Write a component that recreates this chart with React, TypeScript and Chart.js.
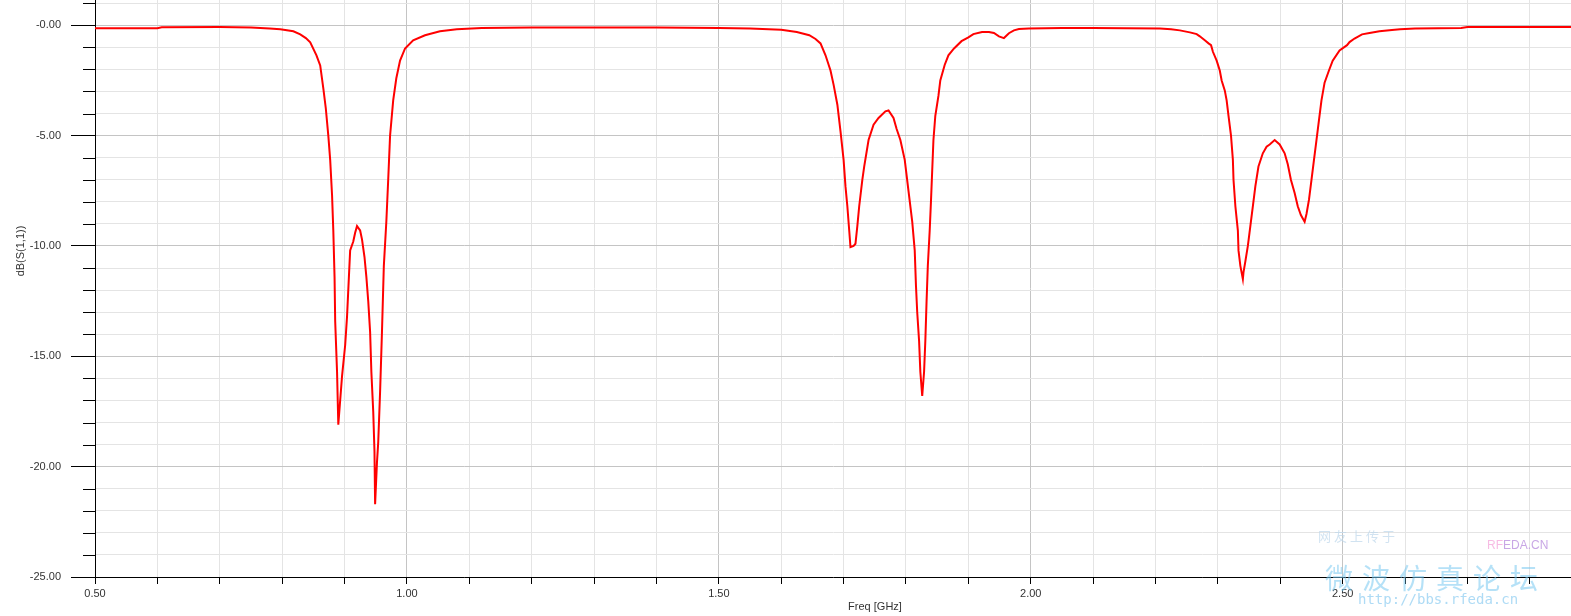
import React, { useEffect, useRef } from "react";
import { Chart, registerables } from "chart.js";

Chart.register(...registerables);

// Frequency samples (GHz)
const freq: number[] = [
  0.5, 0.6, 0.607, 0.7, 0.75, 0.78, 0.797, 0.818, 0.829, 0.838, 0.845, 0.855, 0.861, 0.866, 0.87, 0.874,
  0.877, 0.88, 0.882, 0.884, 0.885, 0.888, 0.89, 0.893, 0.896, 0.901, 0.904, 0.907, 0.909, 0.914, 0.917,
  0.92, 0.925, 0.928, 0.932, 0.935, 0.938, 0.941, 0.943, 0.946, 0.948, 0.949, 0.952, 0.954, 0.957, 0.96,
  0.963, 0.967, 0.97, 0.973, 0.978, 0.983, 0.989, 0.997, 1.01, 1.029, 1.053, 1.08, 1.12, 1.2, 1.4, 1.5,
  1.55, 1.6, 1.625, 1.645, 1.655, 1.663, 1.671, 1.679, 1.684, 1.69, 1.695, 1.7, 1.703, 1.706, 1.709, 1.711,
  1.716, 1.719, 1.722, 1.725, 1.73, 1.733, 1.74, 1.748, 1.756, 1.767, 1.772, 1.78, 1.785, 1.791, 1.798,
  1.804, 1.81, 1.814, 1.816, 1.818, 1.821, 1.823, 1.826, 1.829, 1.831, 1.833, 1.835, 1.838, 1.84, 1.842,
  1.844, 1.847, 1.852, 1.855, 1.862, 1.868, 1.877, 1.889, 1.9, 1.908, 1.922, 1.933, 1.941, 1.949, 1.957,
  1.965, 1.973, 1.981, 1.997, 2.05, 2.1, 2.207, 2.225, 2.239, 2.255, 2.266, 2.271, 2.279, 2.285, 2.289,
  2.292, 2.298, 2.303, 2.306, 2.311, 2.314, 2.317, 2.321, 2.324, 2.325, 2.328, 2.332, 2.333, 2.336, 2.34,
  2.341, 2.344, 2.348, 2.352, 2.356, 2.36, 2.365, 2.372, 2.378, 2.383, 2.391, 2.399, 2.407, 2.412, 2.417,
  2.423, 2.428, 2.433, 2.439, 2.442, 2.446, 2.45, 2.454, 2.458, 2.462, 2.466, 2.471, 2.478, 2.484, 2.495,
  2.507, 2.511, 2.519, 2.531, 2.543, 2.559, 2.579, 2.592, 2.616, 2.69, 2.7, 2.866,
];

// dB(S(1,1)) values
const s11: number[] = [
  -0.13, -0.13, -0.09, -0.08, -0.1, -0.14, -0.18, -0.27, -0.41, -0.58, -0.77, -1.36, -1.82, -2.86, -3.77, -5.0,
  -6.1, -7.7, -9.3, -11.4, -13.4, -15.7, -18.1, -17.0, -15.9, -14.5, -13.2, -11.4, -10.2, -9.8, -9.4,
  -9.1, -9.3, -9.7, -10.5, -11.4, -12.5, -13.9, -15.7, -17.5, -19.3, -21.7, -19.8, -18.9, -16.6, -13.9,
  -10.9, -8.9, -7.0, -5.0, -3.4, -2.4, -1.6, -1.05, -0.68, -0.45, -0.27, -0.18, -0.12, -0.1, -0.1, -0.12,
  -0.15, -0.2, -0.3, -0.45, -0.62, -0.82, -1.36, -2.05, -2.7, -3.6, -4.8, -6.1, -7.3, -8.2, -9.3, -10.05,
  -10.0, -9.9, -9.1, -8.2, -7.0, -6.4, -5.2, -4.5, -4.2, -3.9, -3.86, -4.2, -4.7, -5.2, -6.1,
  -7.5, -8.9, -10.2, -11.8, -13.0, -14.3, -15.7, -16.8, -15.7, -14.3, -12.5, -10.9, -9.3, -8.0, -6.6,
  -5.2, -4.1, -3.2, -2.5, -1.8, -1.36, -1.05, -0.72, -0.55, -0.4, -0.3, -0.3, -0.35, -0.5, -0.58,
  -0.36, -0.23, -0.17, -0.15, -0.12, -0.12, -0.14, -0.18, -0.23, -0.32, -0.4, -0.5, -0.68, -0.82, -0.9,
  -1.2, -1.6, -2.05, -2.5, -2.95, -3.4, -4.1, -5.0, -6.1, -7.0, -8.2, -9.3, -10.2, -10.9, -11.5,
  -11.2, -10.7, -10.0, -9.1, -8.2, -7.3, -6.4, -5.8, -5.5, -5.4, -5.2, -5.4, -5.8, -6.3, -7.0,
  -7.6, -8.2, -8.6, -8.9, -8.55, -7.9, -7.0, -6.1, -5.2, -4.3, -3.4, -2.6, -2.05, -1.6, -1.14,
  -0.9, -0.76, -0.6, -0.41, -0.35, -0.27, -0.21, -0.18, -0.14, -0.12, -0.08, -0.08,
];

const xTicks: number[] = [
  0.5, 0.6, 0.7, 0.8, 0.9, 1.0, 1.1, 1.2, 1.3, 1.4, 1.5, 1.6, 1.7, 1.8, 1.9, 2.0, 2.1, 2.2, 2.3, 2.4, 2.5,
  2.6, 2.7, 2.8,
];
const xMajorLabels: number[] = [0.5, 1.0, 1.5, 2.0, 2.5];
const yTicks: number[] = [
  -25, -24, -23, -22, -21, -20, -19, -18, -17, -16, -15, -14, -13, -12, -11, -10, -9, -8, -7, -6, -5, -4,
  -3, -2, -1, 0, 1,
];
const yMajorLabels: number[] = [-25, -20, -15, -10, -5, 0];

const X_MIN = 0.5;
const X_MAX = 2.866;
const Y_MIN = -25;
const Y_MAX = 1.146;

const xTitle = "Freq [GHz]";
const yTitle = "dB(S(1,1))";

const FONT = "'Liberation Sans', Arial, sans-serif";

const isXMajor = (v: number) => xMajorLabels.some((m) => Math.abs(m - v) < 1e-6);
const isYMajor = (v: number) => yMajorLabels.some((m) => Math.abs(m - v) < 1e-6);

export default function App() {
  const ref = useRef<HTMLCanvasElement | null>(null);

  useEffect(() => {
    const canvas = ref.current;
    if (!canvas) return;

    const extras = {
      id: "extras",
      afterDraw(chart: any) {
        const ctx = chart.ctx as CanvasRenderingContext2D;
        const ys = chart.scales.y;
        const area = chart.chartArea;
        ctx.save();
        // minor y tick marks
        ctx.strokeStyle = "#000";
        ctx.lineWidth = 1;
        ctx.beginPath();
        for (const v of yTicks) {
          if (isYMajor(v)) continue;
          const py = Math.round(ys.getPixelForValue(v)) + 0.5;
          ctx.moveTo(area.left - 12, py);
          ctx.lineTo(area.left, py);
        }
        ctx.stroke();
        // axis titles
        ctx.fillStyle = "#333";
        ctx.font = `11px ${FONT}`;
        ctx.textAlign = "center";
        ctx.textBaseline = "middle";
        ctx.fillText(xTitle, 875, 607);
        ctx.translate(21, 251);
        ctx.rotate(-Math.PI / 2);
        ctx.fillText(yTitle, 0, 0);
        ctx.restore();
      },
    };

    const chart = new Chart(canvas, {
      type: "line",
      data: {
        datasets: [
          {
            data: freq.map((f, i) => ({ x: f, y: s11[i] })),
            borderColor: "#ff0000",
            borderWidth: 2,
            pointRadius: 0,
            tension: 0,
            fill: false,
          },
        ],
      },
      options: {
        animation: false,
        responsive: true,
        maintainAspectRatio: false,
        layout: { padding: 0 },
        plugins: { legend: { display: false }, tooltip: { enabled: false } },
        scales: {
          x: {
            type: "linear",
            min: X_MIN,
            max: X_MAX,
            afterBuildTicks: (s: any) => {
              s.ticks = xTicks.map((v) => ({ value: v }));
            },
            afterFit: (s: any) => {
              s.height = 39;
              s.paddingLeft = 0;
              s.paddingRight = 0;
              s.paddingTop = 0;
              s.paddingBottom = 0;
            },
            grid: {
              color: (c: any) => (c.tick && isXMajor(c.tick.value) ? "#c4c4c4" : "#e4e4e4"),
              lineWidth: 1,
              drawTicks: true,
              tickLength: 7,
              tickColor: "#000",
            },
            border: { display: true, color: "#000", width: 1 },
            ticks: {
              autoSkip: false,
              maxRotation: 0,
              padding: 3,
              color: "#333",
              font: { family: FONT, size: 11 },
              callback: (v: any) => (isXMajor(Number(v)) ? Number(v).toFixed(2) : ""),
            },
          },
          y: {
            type: "linear",
            min: Y_MIN,
            max: Y_MAX,
            afterBuildTicks: (s: any) => {
              s.ticks = yTicks.map((v) => ({ value: v }));
            },
            afterFit: (s: any) => {
              s.width = 95;
              s.paddingLeft = 0;
              s.paddingRight = 0;
              s.paddingTop = 0;
              s.paddingBottom = 0;
            },
            grid: {
              color: (c: any) => (c.tick && isYMajor(c.tick.value) ? "#c4c4c4" : "#e4e4e4"),
              lineWidth: 1,
              drawTicks: true,
              tickLength: 24,
              tickColor: (c: any) => (c.tick && isYMajor(c.tick.value) ? "#000" : "rgba(0,0,0,0)"),
            },
            border: { display: true, color: "#000", width: 1 },
            ticks: {
              autoSkip: false,
              padding: 10,
              color: "#333",
              font: { family: FONT, size: 11 },
              callback: (v: any) => {
                const n = Number(v);
                if (!isYMajor(n)) return "";
                return n === 0 ? "-0.00" : n.toFixed(2);
              },
            },
          },
        },
      },
      plugins: [extras],
    } as any);

    return () => chart.destroy();
  }, []);

  const wm: React.CSSProperties = { position: "absolute", whiteSpace: "nowrap", pointerEvents: "none" };

  return (
    <div style={{ position: "fixed", left: 0, top: 0, width: 1571, height: 616, background: "#fff", overflow: "hidden" }}>
      <canvas ref={ref} />
      <div style={{ ...wm, left: 1318, top: 526, fontSize: 13, letterSpacing: 3, color: "rgba(190,215,235,0.7)", fontFamily: "'Noto Sans CJK SC'" }}>
        网友上传于
      </div>
      <div style={{ ...wm, left: 1487, top: 538, fontSize: 12, fontFamily: FONT }}>
        <span style={{ color: "rgba(245,170,220,0.8)" }}>RF</span>
        <span style={{ color: "rgba(190,150,225,0.85)" }}>EDA.CN</span>
      </div>
      <div style={{ ...wm, left: 1325, top: 557, fontSize: 28, letterSpacing: 9, color: "rgba(120,200,240,0.55)", fontFamily: "'Noto Sans CJK SC'" }}>
        微波仿真论坛
      </div>
      <div style={{ ...wm, left: 1358, top: 591, fontSize: 14, color: "rgba(130,200,240,0.65)", fontFamily: "'DejaVu Sans Mono', monospace" }}>
        http://bbs.rfeda.cn
      </div>
    </div>
  );
}
